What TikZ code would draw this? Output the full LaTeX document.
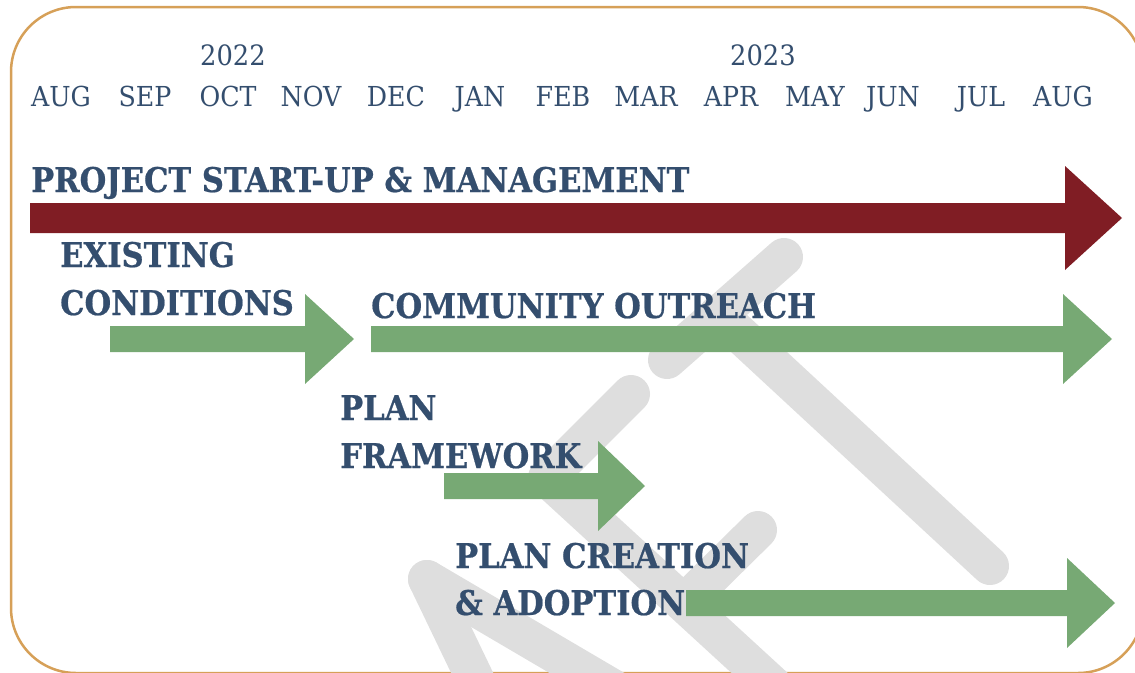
\documentclass[tikz,border=0pt]{standalone}
\usepackage{fontspec}
\setmainfont{DejaVu Serif}
\newfontfamily\headfont[FakeStretch=0.90, BoldFeatures={FakeBold=0.6}]{DejaVu Serif}
\newfontfamily\monthfont[FakeStretch=0.92]{DejaVu Serif}
\usepackage{tikz}
\usetikzlibrary{positioning}
\definecolor{textblue}{RGB}{52,78,110}
\definecolor{arrowred}{RGB}{128,29,36}
\definecolor{arrowgreen}{RGB}{119,169,116}
\definecolor{markgray}{RGB}{222,222,222}
\definecolor{frametan}{RGB}{214,160,88}

\begin{document}
\begin{tikzpicture}
    [
        x=1pt, y=-1pt,
        monthtext/.style={anchor=base, inner sep=0pt, text=textblue, font=\monthfont\fontsize{27.5}{30}\selectfont},
        yeartext/.style={anchor=base, inner sep=0pt, text=textblue, font=\monthfont\fontsize{28}{30}\selectfont},
        phasetext/.style={anchor=base west, inner sep=0pt, text=textblue, font=\headfont\bfseries\fontsize{34}{36}\selectfont},
        arrow_red/.style={fill=arrowred, draw=none},
        arrow_green/.style={fill=arrowgreen, draw=none},
        markbar/.style={draw=markgray, line width=38pt, line cap=round},
        framebox/.style={draw=frametan, line width=2.5pt, rounded corners=65pt},
    ]

    \useasboundingbox (0,0) rectangle (1135,672);
    \clip (0,0) rectangle (1135,672);

    % frame
    \draw[framebox] (11,7) rectangle (1143,673);

    % watermark
    \draw[markbar] (667,360) -- (784,257);
    \draw[markbar] (718,314) -- (990,566);
    \draw[markbar] (547,478) -- (631,394);
    \draw[markbar] (547,478) -- (800,710);
    \draw[markbar] (684,603) -- (758,530);
    \draw[markbar] (427,579) -- (490,710);
    \draw[markbar] (427,579) -- (650,710);

    % years and months
    \node[yeartext] (text2022) at (233,65) {2022};
    \node[yeartext] (text2023) at (763,65) {2023};

    \node[monthtext] (month_aug1) at (61,106) {AUG};
    \node[monthtext] (month_sep) at (145,106) {SEP};
    \node[monthtext] (month_oct) at (228,106) {OCT};
    \node[monthtext] (month_nov) at (311,106) {NOV};
    \node[monthtext] (month_dec) at (396,106) {DEC};
    \node[monthtext] (month_jan) at (480,106) {JAN};
    \node[monthtext] (month_feb) at (563,106) {FEB};
    \node[monthtext] (month_mar) at (646,106) {MAR};
    \node[monthtext] (month_apr) at (731,106) {APR};
    \node[monthtext] (month_may) at (815,106) {MAY};
    \node[monthtext] (month_jun) at (893,106) {JUN};
    \node[monthtext] (month_jul) at (981,106) {JUL};
    \node[monthtext] (month_aug2) at (1063,106) {AUG};

    % phases
    \node[phasetext] (textproject) at (31,192) {PROJECT START-UP \& MANAGEMENT};
    \node[phasetext] (textexisting1) at (60,267) {EXISTING};
    \node[phasetext] (textexisting2) at (60,315) {CONDITIONS};
    \node[phasetext] (textoutreach) at (371,318) {COMMUNITY OUTREACH};
    \node[phasetext] (textframework1) at (340,420) {PLAN};
    \node[phasetext] (textframework2) at (340,468) {FRAMEWORK};
    \node[phasetext] (textcreation1) at (455,568) {PLAN CREATION};
    \node[phasetext] (textcreation2) at (455,615) {\& ADOPTION};

    % arrows
    \fill[arrow_red] (30,203) -- (1065,203) -- (1065,166) -- (1122,218) -- (1065,270) -- (1065,233) -- (30,233) -- cycle;
    \fill[arrow_green] (110,326) -- (305,326) -- (305,294) -- (354,339) -- (305,384) -- (305,352) -- (110,352) -- cycle;
    \fill[arrow_green] (371,326) -- (1063,326) -- (1063,294) -- (1112,339) -- (1063,384) -- (1063,352) -- (371,352) -- cycle;
    \fill[arrow_green] (444,473) -- (598,473) -- (598,441) -- (645,486) -- (598,531) -- (598,499) -- (444,499) -- cycle;
    \fill[arrow_green] (686,590) -- (1067,590) -- (1067,558) -- (1115,603) -- (1067,648) -- (1067,616) -- (686,616) -- cycle;

\end{tikzpicture}
\end{document}
